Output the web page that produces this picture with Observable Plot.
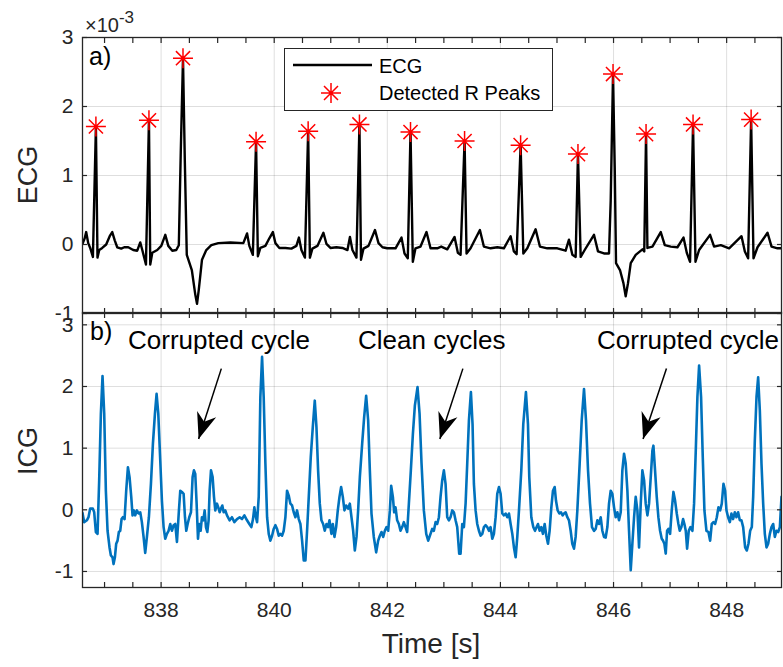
<!DOCTYPE html>
<html><head><meta charset="utf-8">
<script src="https://cdn.jsdelivr.net/npm/d3@7"></script>
<script src="https://cdn.jsdelivr.net/npm/@observablehq/plot@0.6"></script>
<style>
body{margin:0;background:#fff;}
#fig{position:relative;width:783px;height:667px;overflow:hidden;font-family:"Liberation Sans",Arial,sans-serif;color:#262626;}
#fig svg{position:absolute;left:0;top:0;}
</style></head><body><div id="fig"></div>
<script>
// ---------- data ----------
const xDomain = [836.61, 848.97];
const xTickLabels = [838, 840, 842, 844, 846, 848];
const xMinorTicks = [837, 837.5, 838, 838.5, 839, 839.5, 840, 840.5, 841, 841.5, 842, 842.5, 843, 843.5, 844, 844.5, 845, 845.5, 846, 846.5, 847, 847.5, 848, 848.5];
const yTickLabels = [-1, 0, 1, 2, 3];

// ECG samples [time s, value x1e-3]
const ecgSamples = [
[836.61,0.01],[836.649,0.09],[836.675,0.18],[836.711,0.02],[836.746,-0.05],[836.794,-0.18],[836.847,1.71],[836.875,-0.19],[836.906,-0.08],[836.959,-0.05],[837.029,0.0],[837.091,0.12],[837.136,0.18],[837.18,0.06],[837.224,-0.04],[837.295,-0.06],[837.348,-0.04],[837.419,-0.04],[837.507,-0.08],[837.578,-0.09],[837.631,0.03],[837.667,-0.08],[837.732,-0.29],[837.785,1.80],[837.808,-0.29],[837.844,-0.12],[837.932,-0.08],[838.003,-0.02],[838.074,0.14],[838.127,-0.02],[838.198,-0.09],[838.268,-0.08],[838.313,-0.01],[838.348,1.36],[838.387,2.70],[838.419,1.22],[838.454,-0.15],[838.543,-0.37],[838.605,-0.73],[838.635,-0.86],[838.667,-0.65],[838.723,-0.22],[838.799,-0.08],[838.888,-0.01],[839.012,0.02],[839.224,0.03],[839.454,0.02],[839.52,0.16],[839.56,-0.02],[839.622,-0.15],[839.679,1.49],[839.711,-0.17],[839.755,-0.05],[839.844,-0.02],[839.914,0.09],[839.976,0.18],[840.021,0.02],[840.091,-0.05],[840.198,-0.05],[840.304,-0.06],[840.392,-0.02],[840.437,0.10],[840.481,-0.08],[840.543,-0.19],[840.60,1.64],[840.631,-0.19],[840.675,-0.06],[840.764,-0.02],[840.87,0.17],[840.923,0.01],[840.994,-0.05],[841.10,-0.04],[841.206,-0.05],[841.295,-0.08],[841.339,0.11],[841.383,-0.08],[841.454,-0.19],[841.507,1.74],[841.534,-0.22],[841.578,-0.06],[841.667,-0.02],[841.782,0.21],[841.844,0.02],[841.914,-0.04],[841.998,-0.055],[842.145,-0.055],[842.251,0.10],[842.304,-0.13],[842.362,-0.20],[842.41,1.63],[842.451,-0.25],[842.498,-0.055],[842.587,-0.03],[842.693,0.18],[842.764,-0.055],[842.883,-0.055],[842.953,-0.03],[843.06,-0.07],[843.189,0.11],[843.247,-0.12],[843.295,-0.15],[843.366,1.50],[843.401,-0.13],[843.472,-0.055],[843.637,0.21],[843.707,-0.03],[843.826,-0.055],[843.945,-0.04],[844.061,-0.055],[844.18,0.12],[844.238,-0.10],[844.286,-0.14],[844.357,1.44],[844.405,-0.13],[844.475,-0.055],[844.622,0.22],[844.698,-0.03],[844.829,-0.055],[845.006,-0.055],[845.153,-0.09],[845.212,0.07],[845.272,-0.15],[845.33,-0.18],[845.371,1.31],[845.419,-0.18],[845.49,-0.08],[845.654,0.14],[845.725,-0.10],[845.831,-0.13],[845.92,-0.13],[845.95,0.64],[845.991,2.47],[846.021,1.12],[846.044,-0.27],[846.114,-0.37],[846.175,-0.56],[846.215,-0.75],[846.256,-0.56],[846.304,-0.27],[846.392,-0.15],[846.511,-0.07],[846.543,-0.10],[846.575,1.60],[846.599,-0.05],[846.688,-0.03],[846.835,0.18],[846.906,-0.01],[847.012,-0.03],[847.13,-0.04],[847.237,0.10],[847.295,-0.12],[847.353,-0.25],[847.406,1.74],[847.449,-0.25],[847.513,-0.08],[847.707,0.14],[847.778,-0.03],[847.897,-0.01],[848.044,-0.055],[848.263,0.12],[848.322,-0.10],[848.38,-0.20],[848.433,1.81],[848.475,-0.20],[848.546,-0.04],[848.723,0.17],[848.794,-0.03],[848.90,-0.055],[848.97,-0.055]
];

// Detected R peaks
const rPeakTimes  = [836.847, 837.785, 838.387, 839.679, 840.60, 841.507, 842.41, 843.366, 844.357, 845.371, 845.991, 846.575, 847.406, 848.433];
const rPeakValues = [1.71, 1.80, 2.70, 1.49, 1.64, 1.74, 1.63, 1.50, 1.44, 1.31, 2.47, 1.60, 1.74, 1.81];

// ICG samples [time s, value]
const icgSamples = [
[836.61,-0.05],[836.64,-0.20],[836.687,-0.17],[836.716,-0.12],[836.746,0.02],[836.793,0.02],[836.817,-0.04],[836.846,-0.36],[836.876,-0.39],[836.905,0.48],[836.935,1.56],[836.964,2.17],[836.994,1.56],[837.023,0.31],[837.053,-0.34],[837.088,-0.61],[837.112,-0.74],[837.141,-0.77],[837.159,-0.88],[837.183,-0.77],[837.206,-0.55],[837.23,-0.50],[837.253,-0.36],[837.277,-0.34],[837.301,-0.15],[837.324,-0.12],[837.354,-0.15],[837.383,0.31],[837.413,0.69],[837.442,0.53],[837.472,0.21],[837.495,-0.09],[837.519,-0.01],[837.542,-0.09],[837.572,-0.01],[837.601,-0.06],[837.631,-0.04],[837.66,-0.20],[837.69,-0.44],[837.719,-0.70],[837.749,-0.44],[837.784,-0.12],[837.82,0.42],[837.855,1.07],[837.891,1.56],[837.92,1.88],[837.95,1.56],[837.985,0.80],[838.014,0.15],[838.044,-0.28],[838.073,-0.47],[838.103,-0.39],[838.132,-0.34],[838.162,-0.23],[838.191,-0.34],[838.221,-0.25],[838.25,-0.23],[838.28,-0.52],[838.315,-0.01],[838.339,0.31],[838.368,0.29],[838.398,0.26],[838.422,-0.12],[838.445,-0.34],[838.469,-0.23],[838.498,-0.12],[838.528,-0.04],[838.557,0.53],[838.581,0.64],[838.604,0.58],[838.628,0.10],[838.652,-0.47],[838.675,-0.23],[838.699,-0.34],[838.722,-0.12],[838.746,-0.17],[838.77,-0.01],[838.793,-0.28],[838.817,-0.36],[838.84,-0.17],[838.858,0.31],[838.882,0.64],[838.911,0.53],[838.935,0.21],[838.958,-0.01],[838.988,0.10],[839.011,0.04],[839.035,-0.04],[839.059,0.02],[839.082,0.07],[839.106,-0.04],[839.135,-0.01],[839.165,-0.09],[839.212,-0.17],[839.253,-0.12],[839.295,-0.20],[839.342,-0.15],[839.389,-0.12],[839.43,-0.15],[839.472,-0.09],[839.519,-0.17],[839.56,-0.23],[839.596,-0.28],[839.625,-0.15],[839.649,0.04],[839.667,-0.08],[839.697,-0.20],[839.726,0.21],[839.755,1.83],[839.785,2.48],[839.814,1.83],[839.844,0.75],[839.874,-0.12],[839.903,-0.39],[839.932,-0.50],[839.962,-0.42],[839.991,-0.31],[840.021,-0.25],[840.05,-0.31],[840.08,-0.42],[840.109,-0.39],[840.139,-0.42],[840.168,-0.34],[840.198,-0.12],[840.227,0.31],[840.257,0.23],[840.286,0.10],[840.316,0.07],[840.345,-0.04],[840.375,-0.12],[840.404,-0.01],[840.434,-0.15],[840.463,-0.23],[840.493,-0.50],[840.522,-0.82],[840.552,-0.82],[840.581,-0.34],[840.611,0.21],[840.646,0.85],[840.682,1.34],[840.717,1.77],[840.747,1.34],[840.776,0.64],[840.806,0.10],[840.835,-0.17],[840.865,-0.23],[840.894,-0.34],[840.924,-0.23],[840.953,-0.28],[840.977,-0.17],[841.012,-0.39],[841.036,-0.23],[841.065,-0.44],[841.095,-0.28],[841.124,-0.01],[841.154,0.21],[841.183,0.37],[841.213,0.21],[841.242,-0.01],[841.272,0.07],[841.307,0.02],[841.337,0.10],[841.366,-0.12],[841.396,-0.34],[841.425,-0.66],[841.455,-0.44],[841.484,-0.01],[841.514,0.53],[841.555,1.07],[841.59,1.50],[841.626,1.85],[841.661,1.45],[841.691,0.64],[841.72,-0.06],[841.761,-0.44],[841.803,-0.69],[841.838,-0.50],[841.868,-0.42],[841.897,-0.36],[841.927,-0.44],[841.956,-0.34],[841.986,-0.28],[842.015,-0.34],[842.045,-0.01],[842.068,0.39],[842.098,0.21],[842.121,-0.04],[842.145,0.04],[842.174,-0.17],[842.204,-0.23],[842.233,-0.34],[842.263,-0.28],[842.292,-0.20],[842.322,-0.28],[842.351,-0.36],[842.381,0.10],[842.416,0.64],[842.452,1.23],[842.487,1.69],[842.534,1.99],[842.57,1.56],[842.605,0.75],[842.646,-0.01],[842.688,-0.39],[842.723,-0.50],[842.764,-0.39],[842.794,-0.31],[842.823,-0.34],[842.853,-0.20],[842.882,-0.23],[842.912,-0.12],[842.941,0.21],[842.971,0.48],[843.0,0.64],[843.03,0.42],[843.059,-0.12],[843.089,-0.17],[843.118,-0.12],[843.148,-0.01],[843.177,-0.04],[843.207,-0.17],[843.236,-0.28],[843.271,-0.71],[843.295,-0.71],[843.325,-0.23],[843.354,-0.28],[843.384,0.10],[843.413,0.75],[843.443,1.45],[843.478,1.91],[843.507,1.39],[843.531,0.42],[843.561,-0.01],[843.59,-0.23],[843.62,-0.34],[843.649,-0.42],[843.679,-0.39],[843.708,-0.28],[843.738,-0.25],[843.767,-0.28],[843.797,-0.34],[843.826,-0.28],[843.856,-0.47],[843.885,-0.39],[843.915,-0.12],[843.944,0.26],[843.974,0.37],[844.003,0.26],[844.033,-0.06],[844.062,-0.09],[844.092,-0.06],[844.121,-0.12],[844.151,-0.06],[844.18,-0.23],[844.21,-0.39],[844.239,-0.61],[844.269,-0.77],[844.298,-0.44],[844.328,-0.01],[844.369,0.64],[844.404,1.39],[844.451,1.91],[844.487,1.39],[844.51,0.53],[844.546,-0.12],[844.581,-0.28],[844.611,-0.34],[844.64,-0.28],[844.664,-0.23],[844.693,-0.34],[844.723,-0.28],[844.752,-0.39],[844.782,-0.23],[844.811,-0.42],[844.841,-0.55],[844.87,-0.34],[844.9,0.04],[844.929,0.31],[844.959,0.37],[844.982,0.15],[845.012,-0.01],[845.041,-0.06],[845.071,-0.04],[845.1,-0.09],[845.124,-0.06],[845.153,-0.04],[845.183,-0.12],[845.212,-0.17],[845.242,-0.34],[845.271,-0.55],[845.301,-0.63],[845.33,-0.44],[845.36,-0.01],[845.401,0.75],[845.437,1.45],[845.478,1.96],[845.513,1.45],[845.549,0.64],[845.584,0.10],[845.619,-0.28],[845.655,-0.34],[845.684,-0.31],[845.714,-0.17],[845.743,-0.23],[845.773,-0.12],[845.802,-0.34],[845.832,-0.44],[845.861,-0.45],[845.891,-0.28],[845.92,0.10],[845.95,0.31],[845.979,0.26],[846.009,0.04],[846.038,-0.12],[846.068,-0.04],[846.097,-0.17],[846.127,-0.04],[846.156,0.64],[846.186,0.91],[846.215,0.75],[846.245,0.31],[846.274,-0.34],[846.304,-0.98],[846.333,-0.55],[846.363,-0.12],[846.392,0.21],[846.422,-0.01],[846.451,-0.61],[846.481,0.10],[846.51,0.64],[846.54,0.48],[846.569,0.10],[846.599,-0.09],[846.628,0.10],[846.658,0.53],[846.687,0.96],[846.705,1.04],[846.734,0.64],[846.764,0.21],[846.793,-0.12],[846.823,-0.34],[846.852,-0.47],[846.876,-0.50],[846.899,-0.55],[846.923,-0.71],[846.947,-0.34],[846.97,-0.31],[847.0,-0.39],[847.029,-0.01],[847.059,0.29],[847.088,0.15],[847.118,-0.06],[847.147,-0.23],[847.171,-0.34],[847.2,-0.28],[847.23,-0.15],[847.253,-0.23],[847.277,-0.34],[847.301,-0.63],[847.33,-0.34],[847.36,-0.28],[847.395,-0.34],[847.424,0.10],[847.454,0.96],[847.483,1.83],[847.513,2.34],[847.548,1.83],[847.578,0.85],[847.607,-0.01],[847.643,-0.34],[847.678,-0.36],[847.708,-0.50],[847.737,-0.23],[847.767,-0.20],[847.796,-0.23],[847.826,-0.12],[847.855,0.04],[847.885,-0.01],[847.914,0.10],[847.944,0.42],[847.973,0.31],[847.997,-0.01],[848.026,-0.12],[848.056,-0.20],[848.085,-0.06],[848.115,-0.15],[848.144,-0.04],[848.174,-0.12],[848.203,-0.04],[848.233,-0.17],[848.262,-0.17],[848.292,-0.28],[848.327,-0.61],[848.357,-0.66],[848.386,-0.55],[848.416,-0.34],[848.445,-0.28],[848.469,0.21],[848.498,1.12],[848.528,1.83],[848.557,2.15],[848.587,1.61],[848.616,0.75],[848.646,0.10],[848.675,-0.39],[848.705,-0.61],[848.734,-0.55],[848.764,-0.39],[848.793,-0.28],[848.823,-0.23],[848.852,-0.44],[848.882,-0.34],[848.911,-0.36],[848.941,-0.28],[848.97,0.21]
];

// Annotation arrows (data coordinates of ICG panel)
const arrowTailT = [839.065, 843.336, 846.936];
const arrowTailV = [2.29, 2.29, 2.29];
const arrowTipT  = [838.663, 842.929, 846.522];
const arrowTipV  = [1.15, 1.15, 1.15];

// ---------- drawing ----------
const axisColor = "#262626";
const baseStyle = {background: "transparent", fontFamily: "'Liberation Sans', Arial, sans-serif", fontSize: "21px", color: axisColor, overflow: "visible"};

const asterisk8 = {draw(ctx, size) {
  const r = Math.sqrt(size / Math.PI), d = r * Math.SQRT1_2;
  ctx.moveTo(-r, 0); ctx.lineTo(r, 0);
  ctx.moveTo(0, -r); ctx.lineTo(0, r);
  ctx.moveTo(-d, -d); ctx.lineTo(d, d);
  ctx.moveTo(-d, d); ctx.lineTo(d, -d);
}};
const arrowHead = {draw(ctx) {
  ctx.moveTo(0, 0); ctx.lineTo(-10, 26); ctx.lineTo(0, 18); ctx.lineTo(10, 26); ctx.closePath();
}};

const blank = () => "";
const intFmt = d => String(d);
function frameMarks(yTicks, withXLabels) {
  const m = [
    Plot.axisY(yTicks, {anchor: "left", tickSize: 0, tickPadding: 9, label: null, tickFormat: intFmt}),
    Plot.axisY(yTicks, {anchor: "left", tickSize: -5, tickFormat: blank, label: null, strokeWidth: 1.2}),
    Plot.axisY(yTicks, {anchor: "right", tickSize: -5, tickFormat: blank, label: null, strokeWidth: 1.2}),
    Plot.axisX(xMinorTicks, {anchor: "bottom", tickSize: -5, tickFormat: blank, label: null, strokeWidth: 1.2}),
    Plot.axisX(xMinorTicks, {anchor: "top", tickSize: -5, tickFormat: blank, label: null, strokeWidth: 1.2}),
    Plot.frame({stroke: axisColor, strokeWidth: 1.3})
  ];
  if (withXLabels) m.push(Plot.axisX(xTickLabels, {anchor: "bottom", tickSize: 0, tickPadding: 15, label: null, tickFormat: intFmt}));
  return m;
}

const ecgRows = ecgSamples.map(([t, v]) => ({t, v}));
const peakRows = rPeakTimes.map((t, i) => ({t, v: rPeakValues[i]}));
const icgRows = icgSamples.map(([t, v]) => ({t, v}));
const arrowRows = arrowTailT.map((t, i) => ({t1: t, v1: arrowTailV[i], t2: arrowTipT[i], v2: arrowTipV[i]}));

const topPlot = Plot.plot({
  width: 783, height: 320, marginLeft: 82, marginRight: 2, marginTop: 37, marginBottom: 7,
  x: {domain: xDomain}, y: {domain: [-1, 3]},
  style: baseStyle,
  marks: [
    Plot.gridX(xTickLabels, {stroke: "#000", strokeOpacity: 0.13}),
    Plot.gridY(yTickLabels, {stroke: "#000", strokeOpacity: 0.13}),
    Plot.line(ecgRows, {x: "t", y: "v", stroke: "#000", strokeWidth: 2.4, clip: true}),
    Plot.dot(peakRows, {x: "t", y: "v", symbol: asterisk8, r: 10, stroke: "#ff0000", fill: "none", strokeWidth: 1.5}),
    ...frameMarks(yTickLabels, false)
  ]
});

const bottomPlot = Plot.plot({
  width: 783, height: 667, marginLeft: 82, marginRight: 2, marginTop: 312, marginBottom: 80,
  x: {domain: xDomain}, y: {domain: [-1.26, 3.2]},
  style: baseStyle,
  marks: [
    Plot.gridX(xTickLabels, {stroke: "#000", strokeOpacity: 0.13}),
    Plot.gridY(yTickLabels, {stroke: "#000", strokeOpacity: 0.13}),
    Plot.line(icgRows, {x: "t", y: "v", stroke: "#0072BD", strokeWidth: 2.6, clip: true}),
    Plot.link(arrowRows, {x1: "t1", y1: "v1", x2: "t2", y2: "v2", stroke: "#000", strokeWidth: 1.5}),
    Plot.dot(arrowRows, {x: "t2", y: "v2", symbol: arrowHead, r: 10, fill: "#000", stroke: "none", rotate: 198}),
    ...frameMarks(yTickLabels, true)
  ]
});

const fig = document.getElementById("fig");
fig.appendChild(topPlot);
fig.appendChild(bottomPlot);

// text overlay & legend
const ns = "http://www.w3.org/2000/svg";
const overlay = document.createElementNS(ns, "svg");
overlay.setAttribute("width", 783); overlay.setAttribute("height", 667);
overlay.style.fontFamily = "'Liberation Sans', Arial, sans-serif";
overlay.innerHTML = `
  <g fill="#262626">
    <text x="85" y="32" font-size="20">×10<tspan dy="-9" font-size="17">-3</tspan></text>
    <text x="89" y="65" font-size="25" fill="#000">a)</text>
    <text x="90" y="340" font-size="25" fill="#000">b)</text>
    <text transform="translate(37,175) rotate(-90)" text-anchor="middle" font-size="27">ECG</text>
    <text transform="translate(37,451) rotate(-90)" text-anchor="middle" font-size="27">ICG</text>
    <text x="431" y="653" text-anchor="middle" font-size="28">Time [s]</text>
  </g>
  <g fill="#000" font-size="26">
    <text x="128" y="349">Corrupted cycle</text>
    <text x="358" y="349">Clean cycles</text>
    <text x="597" y="349">Corrupted cycle</text>
  </g>
  <g>
    <rect x="284.5" y="48.5" width="268" height="62" fill="#fff" stroke="#262626" stroke-width="1"/>
    <line x1="293" x2="372" y1="65" y2="65" stroke="#000" stroke-width="2.3"/>
    <path d="M321,93H341M331,83V103M324,86L338,100M324,100L338,86" stroke="#ff0000" stroke-width="1.5" fill="none"/>
    <text x="379" y="73" font-size="20" fill="#000">ECG</text>
    <text x="379" y="100" font-size="20" fill="#000">Detected R Peaks</text>
  </g>`;
fig.appendChild(overlay);
</script></body></html>
